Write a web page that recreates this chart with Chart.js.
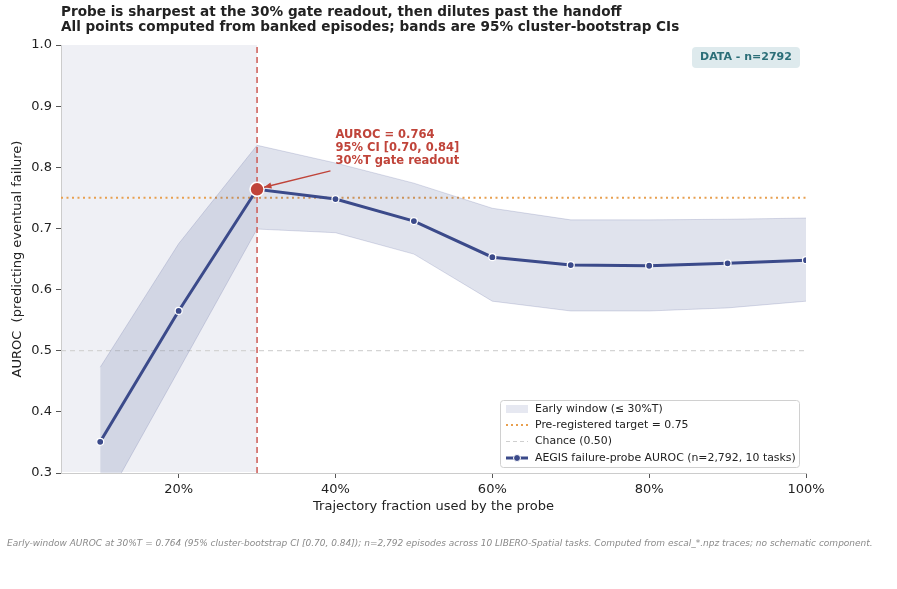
<!DOCTYPE html>
<html>
<head>
<meta charset="utf-8">
<script src="https://cdn.jsdelivr.net/npm/chart.js@4.4.1/dist/chart.umd.min.js"></script>
<style>
  html, body { margin: 0; padding: 0; background: #fff; }
  canvas { display: block; }
</style>
</head>
<body>
<canvas id="chart" width="897" height="589"></canvas>
<script>
// data
var fractions = [10, 20, 30, 40, 50, 60, 70, 80, 90, 100];
var auroc     = [0.351, 0.565, 0.764, 0.748, 0.712, 0.653, 0.640, 0.639, 0.643, 0.648];
var ciUpper   = [0.473, 0.675, 0.836, 0.807, 0.774, 0.733, 0.714, 0.714, 0.715, 0.717];
var ciLower   = [0.238, 0.468, 0.699, 0.693, 0.658, 0.581, 0.565, 0.565, 0.570, 0.581];
var xTicks = [20, 40, 60, 80, 100];
var yTicks = [0.3, 0.4, 0.5, 0.6, 0.7, 0.8, 0.9, 1.0];
var xRange = [5, 100];
var yRange = [0.3, 1.0];
var gateFraction = 30;
var gateAuroc = 0.764;
var targetAuroc = 0.75;
var chanceAuroc = 0.5;
var earlyWindow = [5, 30];

var NAVY = "#3b4a8a";
var RED = "#c0443a";
var ORANGE = "#e8a050";
var TEXT = "#222222";
var FONT = "'DejaVu Sans', sans-serif";

function pts(xs, ys) {
  return xs.map(function (x, i) { return { x: x, y: ys[i] }; });
}

var decor = {
  id: "decor",
  beforeDatasetsDraw: function (chart) {
    var ctx = chart.ctx, a = chart.chartArea;
    var x = chart.scales.x;
    ctx.save();
    ctx.fillStyle = "#eff0f5";
    var x0 = x.getPixelForValue(earlyWindow[0]), x1 = x.getPixelForValue(earlyWindow[1]);
    ctx.fillRect(x0 + 1, a.top, x1 - x0 - 1, a.bottom - a.top - 1);
    ctx.restore();
  },
  afterDatasetsDraw: function (chart) {
    var ctx = chart.ctx, a = chart.chartArea;
    var x = chart.scales.x, y = chart.scales.y;
    ctx.save();

    // annotation + arrow
    var px = x.getPixelForValue(gateFraction), py = y.getPixelForValue(gateAuroc);
    var tx = x.getPixelForValue(40), ty = y.getPixelForValue(0.853);
    ctx.fillStyle = RED;
    ctx.font = "bold 11.5px " + FONT;
    ctx.textBaseline = "middle";
    ctx.textAlign = "left";
    ["AUROC = " + gateAuroc.toFixed(3), "95% CI [0.70, 0.84]", "30%T gate readout"].forEach(function (s, i) {
      ctx.fillText(s, tx, ty + i * 13);
    });
    var ax = tx - 5, ay = ty + 36, bx = px + 7, by = py - 2;
    ctx.strokeStyle = RED;
    ctx.lineWidth = 1.4;
    ctx.beginPath(); ctx.moveTo(ax, ay); ctx.lineTo(bx, by); ctx.stroke();
    var ang = Math.atan2(by - ay, bx - ax);
    ctx.beginPath();
    ctx.moveTo(bx, by);
    ctx.lineTo(bx - 8 * Math.cos(ang - 0.4), by - 8 * Math.sin(ang - 0.4));
    ctx.lineTo(bx - 8 * Math.cos(ang + 0.4), by - 8 * Math.sin(ang + 0.4));
    ctx.closePath(); ctx.fill();

    // data badge
    ctx.font = "bold 11px " + FONT;
    ctx.fillStyle = "#deeaed";
    ctx.beginPath(); ctx.roundRect(692, 47, 108, 21, 4); ctx.fill();
    ctx.fillStyle = "#2b6e78";
    ctx.textAlign = "center";
    ctx.fillText("DATA - n=2792", 746, 57.5);

    // legend
    ctx.fillStyle = "rgba(255,255,255,0.85)";
    ctx.strokeStyle = "#d0d0d0";
    ctx.lineWidth = 1;
    ctx.beginPath(); ctx.roundRect(500.5, 400.5, 299, 67, 3); ctx.fill(); ctx.stroke();
    ctx.textAlign = "left";
    ctx.font = "10.9px " + FONT;
    var rows = [409, 425, 441.5, 458];
    ctx.fillStyle = "#e6e8f1";
    ctx.fillRect(506, rows[0] - 4, 22, 8);
    ctx.strokeStyle = ORANGE; ctx.lineWidth = 2; ctx.setLineDash([2, 3]);
    ctx.beginPath(); ctx.moveTo(506, rows[1]); ctx.lineTo(528, rows[1]); ctx.stroke();
    ctx.strokeStyle = "#cfcfcf"; ctx.lineWidth = 1.2; ctx.setLineDash([4, 3]);
    ctx.beginPath(); ctx.moveTo(506, rows[2]); ctx.lineTo(528, rows[2]); ctx.stroke();
    ctx.setLineDash([]);
    ctx.strokeStyle = NAVY; ctx.lineWidth = 3;
    ctx.beginPath(); ctx.moveTo(506, rows[3]); ctx.lineTo(528, rows[3]); ctx.stroke();
    ctx.fillStyle = NAVY; ctx.strokeStyle = "#fff"; ctx.lineWidth = 1;
    ctx.beginPath(); ctx.arc(517, rows[3], 3.5, 0, Math.PI * 2); ctx.fill(); ctx.stroke();
    ctx.fillStyle = TEXT;
    ["Early window (\u2264 30%T)", "Pre-registered target = 0.75", "Chance (0.50)",
     "AEGIS failure-probe AUROC (n=2,792, 10 tasks)"].forEach(function (s, i) {
      ctx.fillText(s, 535, rows[i]);
    });
    ctx.restore();
  },
  afterDraw: function (chart) {
    var ctx = chart.ctx, a = chart.chartArea;
    ctx.save();
    ctx.fillStyle = TEXT;
    ctx.textBaseline = "middle";
    ctx.textAlign = "left";
    ctx.font = "bold 13.6px " + FONT;
    ctx.fillText("Probe is sharpest at the 30% gate readout, then dilutes past the handoff", 61, 12);
    ctx.fillText("All points computed from banked episodes; bands are 95% cluster-bootstrap CIs", 61, 27.5);

    ctx.font = "13px " + FONT;
    ctx.textAlign = "center";
    ctx.fillText("Trajectory fraction used by the probe", (a.left + a.right) / 2, 507);
    ctx.translate(18, (a.top + a.bottom) / 2);
    ctx.rotate(-Math.PI / 2);
    ctx.fillText("AUROC  (predicting eventual failure)", 0, 0);
    ctx.setTransform(1, 0, 0, 1, 0, 0);

    ctx.fillStyle = "#8a8a8a";
    ctx.font = "italic 9px " + FONT;
    ctx.textAlign = "left";
    ctx.fillText("Early-window AUROC at 30%T = 0.764 (95% cluster-bootstrap CI [0.70, 0.84]); n=2,792 episodes across 10 LIBERO-Spatial tasks. Computed from escal_*.npz traces; no schematic component.", 7, 544);
    ctx.restore();
  }
};

function axisCommon(ticksArr, width, height) {
  return {
    type: "linear",
    afterBuildTicks: function (s) { s.ticks = ticksArr.map(function (v) { return { value: v }; }); },
    afterFit: function (s) { if (width) s.width = width; if (height) s.height = height; },
    grid: { drawOnChartArea: false, tickLength: 5, tickColor: "#555", lineWidth: 1 },
    border: { color: "#cccccc", width: 1 },
    ticks: { color: TEXT, font: { size: 13, family: FONT }, padding: 4 }
  };
}

var xAxis = axisCommon(xTicks, 0, 116);
xAxis.min = xRange[0]; xAxis.max = xRange[1];
xAxis.ticks.callback = function (v) { return v + "%"; };
xAxis.ticks.maxRotation = 0;
var yAxis = axisCommon(yTicks, 61, 0);
yAxis.min = yRange[0]; yAxis.max = yRange[1];
yAxis.ticks.callback = function (v) { return Number(v).toFixed(1); };

new Chart(document.getElementById("chart"), {
  type: "line",
  data: {
    datasets: [
      { data: [{ x: gateFraction, y: gateAuroc }], showLine: false, pointRadius: 7,
        pointBackgroundColor: RED, pointBorderColor: "#fff", pointBorderWidth: 1.5 },
      { data: pts(fractions, auroc), borderColor: NAVY, borderWidth: 3, pointRadius: 3.5,
        pointBackgroundColor: NAVY, pointBorderColor: "#fff", pointBorderWidth: 1.2, tension: 0 },
      { data: [{ x: gateFraction, y: yRange[0] }, { x: gateFraction, y: yRange[1] }],
        borderColor: "#cc5a55", borderWidth: 1.5, borderDash: [6, 4], pointRadius: 0 },
      { data: pts(fractions, ciUpper), borderColor: "rgba(59,74,138,0.18)", borderWidth: 1,
        pointRadius: 0, fill: "+1", backgroundColor: "rgba(59,74,138,0.155)", tension: 0 },
      { data: pts(fractions, ciLower), borderColor: "rgba(59,74,138,0.18)", borderWidth: 1,
        pointRadius: 0, tension: 0 },
      { data: [{ x: xRange[0], y: targetAuroc }, { x: xRange[1], y: targetAuroc }],
        borderColor: ORANGE, borderWidth: 2, borderDash: [2, 3.5], pointRadius: 0 },
      { data: [{ x: xRange[0], y: chanceAuroc }, { x: xRange[1], y: chanceAuroc }],
        borderColor: "#d4d4d4", borderWidth: 1.2, borderDash: [5, 4], pointRadius: 0 }
    ]
  },
  options: {
    responsive: false,
    animation: false,
    devicePixelRatio: 1,
    layout: { padding: { top: 45, right: 91, bottom: 0, left: 0 } },
    plugins: { legend: { display: false }, tooltip: { enabled: false } },
    scales: { x: xAxis, y: yAxis }
  },
  plugins: [decor]
});
</script>
</body>
</html>
